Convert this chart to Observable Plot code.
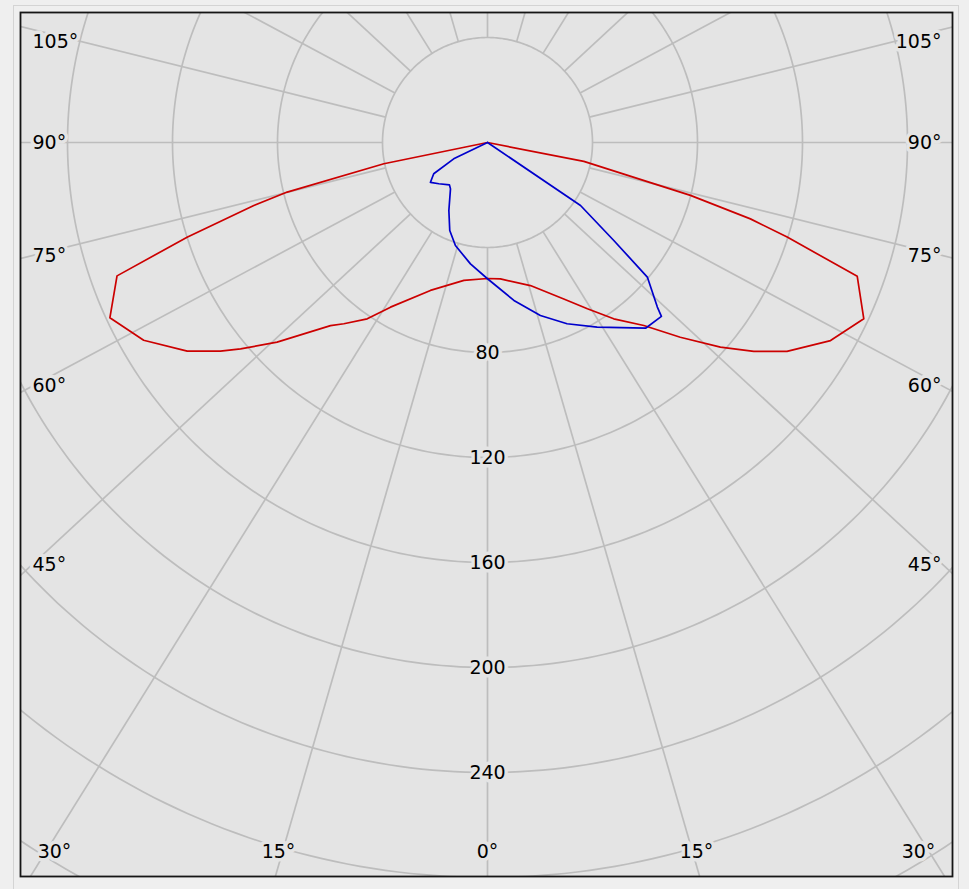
<!DOCTYPE html>
<html>
<head>
<meta charset="utf-8">
<script src="https://cdn.jsdelivr.net/npm/d3@7"></script>
<script src="https://cdn.jsdelivr.net/npm/@observablehq/plot@0.6"></script>
<style>
  html, body { margin: 0; padding: 0; background: #efefef; }
  #wrap { position: relative; width: 969px; height: 889px; overflow: hidden; }
  #border { position: absolute; left: 13px; top: 5px; width: 946px; height: 910px; border: 1px solid #d4d4d4; box-sizing: border-box; }
  #chart { position: absolute; left: 0; top: 0; }
</style>
</head>
<body>
<div id="wrap"><div id="border"></div><div id="chart"></div></div>
<script>
// ---------------- data ----------------
// Luminous intensity, C0 / C180 plane (red), gamma in degrees from nadir
const redC0Gamma      = [0, 5.4, 16.7, 26.0, 31.0, 35.6, 40.5, 44.7, 48.7, 51.9, 55.1, 60.0, 64.9, 70.1, 72.5, 73.8, 75.4, 78.9, 90];
const redC0Intensity  = [51.8, 52.2, 56.9, 66.3, 73.9, 82.6, 91.7, 104.4, 118.1, 128.9, 139.1, 150.9, 158.3, 149.8, 119.7, 104.3, 79.9, 37.4, 0];
const redC180Gamma     = [0, 9.7, 21.1, 30.5, 34.3, 38.4, 40.6, 46.5, 50.1, 52.0, 55.2, 60.1, 65.1, 70.2, 72.5, 74.9, 76.1, 78.4, 90];
const redC180Intensity = [51.8, 53.3, 60.4, 72.8, 81.3, 88.1, 91.9, 110.5, 122.6, 129.1, 139.3, 151.1, 158.6, 150.0, 120.0, 92.2, 78.6, 40.3, 0];
// C90 / C270 plane (blue)
const blueC90Gamma      = [0, 9.5, 17.0, 23.7, 30.7, 40.4, 45.0, 45.9, 49.9, 52.2, 55.9, 90];
const blueC90Intensity  = [51.9, 61.0, 68.9, 75.4, 81.8, 92.9, 93.7, 90.1, 79.6, 60.9, 42.8, 0];
const blueC270Gamma     = [0, 8.0, 17.3, 23.2, 29.6, 38.6, 41.9, 49.7, 55.1, 59.8, 64.2, 90];
const blueC270Intensity = [51.9, 46.7, 41.1, 36.5, 29.8, 22.6, 21.7, 24.3, 26.5, 23.7, 14.3, 0];

// grid / tick values
const ringValues = [40, 80, 120, 160, 200, 240, 280, 320, 360];
const ringLabelValues = [80, 120, 160, 200, 240];
const spokeAngles = d3.range(0, 360, 15);
const sideLabelAngles = [105, 90, 75, 60, 45];
const bottomLabelAngles = [30, 15, 0];

// ---------------- layout ----------------
const W = 969, H = 889;
const L = 20, R = 952, T = 12, B = 876;        // frame
const cx = 487, cy = 142, k = 2.625;           // centre & px per cd
const aspect = (R - L) / (B - T);
const ux = px => (px - cx) / k;
const uy = px => (cy - px) / k;
const rad = d => d * Math.PI / 180;
const bg = "#e4e4e4", grid = "#bdbdbd";
const font = "DejaVu Sans";

function polar(g, I, side) {
  return {x: side * I * Math.sin(rad(g)), y: -I * Math.cos(rad(g))};
}
const redPts = [
  ...redC180Gamma.map((g, i) => polar(g, redC180Intensity[i], -1)).reverse(),
  ...redC0Gamma.map((g, i) => polar(g, redC0Intensity[i], 1))
];
const bluePts = [
  ...blueC270Gamma.map((g, i) => polar(g, blueC270Intensity[i], -1)).reverse(),
  ...blueC90Gamma.map((g, i) => polar(g, blueC90Intensity[i], 1))
];

const ringPts = ringValues.flatMap(r => d3.range(0, 361, 1).map(a => ({r, x: r * Math.sin(rad(a)), y: r * Math.cos(rad(a))})));

const spokes = spokeAngles.map(a => {
  let dx = Math.sin(rad(a)) * aspect, dy = -Math.cos(rad(a));
  const n = Math.hypot(dx, dy); dx /= n; dy /= n;
  return {x1: 40 * dx, y1: 40 * dy, x2: 600 * dx, y2: 600 * dy};
});

const clamp = (v, a, b) => Math.max(a, Math.min(b, v));
const leftLabels = sideLabelAngles.map(g => ({text: g + "°", px: 32, py: clamp(cy + 422 * Math.cos(rad(g)) / Math.sin(rad(g)), T + 29, B - 30)}));
const rightLabels = sideLabelAngles.map(g => ({text: g + "°", px: 941, py: clamp(cy + 422 * Math.cos(rad(g)) / Math.sin(rad(g)), T + 29, B - 30)}));
const bottomLabels = bottomLabelAngles.flatMap(g => (g === 0 ? [0] : [-1, 1]).map(s => ({text: g + "°", px: clamp(cx + s * 780 * Math.tan(rad(g)), 54, 918), py: 851})));

const textStyle = {fill: "black", stroke: bg, strokeWidth: 7, fontSize: 19, fontFamily: font};

const chart = Plot.plot({
  width: W, height: H,
  marginLeft: L, marginRight: W - R, marginTop: T, marginBottom: H - B,
  x: {domain: [ux(L), ux(R)], axis: null},
  y: {domain: [uy(B), uy(T)], axis: null},
  style: {background: "transparent", overflow: "visible"},
  marks: [
    Plot.frame({fill: bg, stroke: null}),
    Plot.line(ringPts, {x: "x", y: "y", z: "r", stroke: grid, strokeWidth: 1.7, clip: true}),
    Plot.link(spokes, {x1: "x1", y1: "y1", x2: "x2", y2: "y2", stroke: grid, strokeWidth: 1.7, clip: true}),
    Plot.line(redPts, {x: "x", y: "y", stroke: "#cc0000", strokeWidth: 1.7, clip: true}),
    Plot.line(bluePts, {x: "x", y: "y", stroke: "#0000cc", strokeWidth: 1.7, clip: true}),
    Plot.text(ringLabelValues, {x: () => 0, y: d => -d, text: d => String(d), ...textStyle}),
    Plot.text(leftLabels, {x: d => ux(d.px), y: d => uy(d.py), text: "text", textAnchor: "start", ...textStyle}),
    Plot.text(rightLabels, {x: d => ux(d.px), y: d => uy(d.py), text: "text", textAnchor: "end", ...textStyle}),
    Plot.text(bottomLabels, {x: d => ux(d.px), y: d => uy(d.py), text: "text", textAnchor: "middle", ...textStyle}),
    Plot.frame({stroke: "#151515", strokeWidth: 1.8})
  ]
});
document.getElementById("chart").appendChild(chart);
</script>
</body>
</html>
